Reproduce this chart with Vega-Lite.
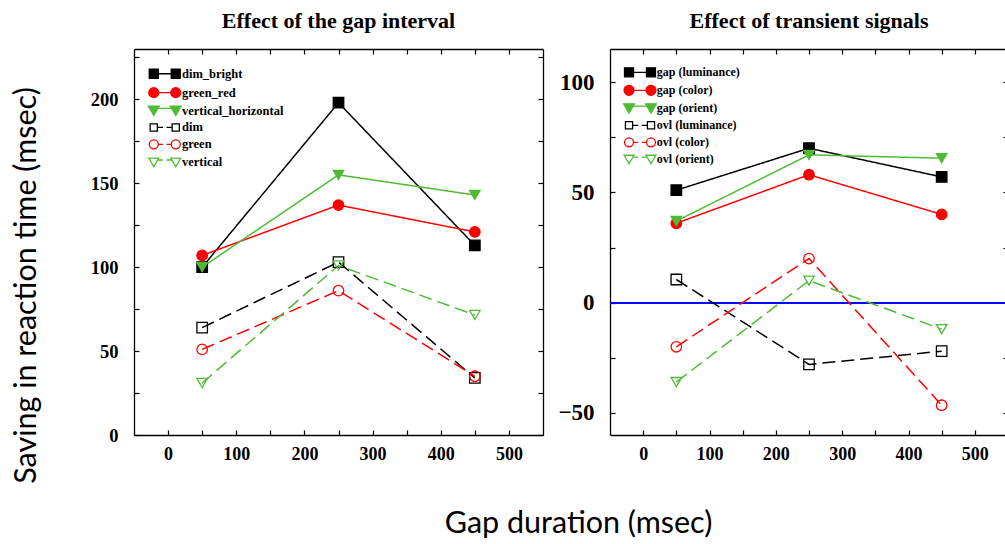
{
  "$schema": "https://vega.github.io/schema/vega-lite/v6.json",
  "bounds": "flush",
  "spacing": 67,
  "padding": {"left": 10, "top": 10, "right": 0, "bottom": 0},
  "resolve": {
    "scale": {"stroke": "independent", "fill": "independent", "shape": "independent", "strokeDash": "independent"},
    "legend": {"stroke": "independent", "fill": "independent", "shape": "independent", "strokeDash": "independent"}
  },
  "config": {
    "view": {"stroke": null},
    "axis": {"grid": false, "domainColor": "#000", "domainWidth": 1.3, "tickColor": "#000", "tickWidth": 1.2, "tickSize": -5,
      "labelFont": "Liberation Serif", "labelFontWeight": "bold", "labelColor": "#000", "labelFontSize": 18,
      "titleFont": "Lato", "titleFontWeight": "normal", "titleFontSize": 30.5, "titleColor": "#000", "labelFlush": false, "labelOverlap": false},
    "title": {"font": "Liberation Serif", "fontSize": 22, "fontWeight": "bold", "color": "#000"},
    "legend": {"labelFont": "Liberation Serif", "labelFontWeight": "bold", "labelColor": "#000"}
  },
  "hconcat": [
    {
      "width": 409, "height": 386,
      "title": {"text": "Effect of the gap interval", "anchor": "middle", "frame": "group", "baseline": "alphabetic", "offset": -2},
      "data": {"values": [
        {"series": "dim_bright", "gap": 50, "saving": 100}, {"series": "dim_bright", "gap": 250, "saving": 198}, {"series": "dim_bright", "gap": 450, "saving": 113},
        {"series": "green_red", "gap": 50, "saving": 107}, {"series": "green_red", "gap": 250, "saving": 137}, {"series": "green_red", "gap": 450, "saving": 121},
        {"series": "vertical_horizontal", "gap": 50, "saving": 100}, {"series": "vertical_horizontal", "gap": 250, "saving": 155}, {"series": "vertical_horizontal", "gap": 450, "saving": 143},
        {"series": "dim", "gap": 50, "saving": 64}, {"series": "dim", "gap": 250, "saving": 103}, {"series": "dim", "gap": 450, "saving": 34},
        {"series": "green", "gap": 50, "saving": 51}, {"series": "green", "gap": 250, "saving": 86}, {"series": "green", "gap": 450, "saving": 35},
        {"series": "vertical", "gap": 50, "saving": 31}, {"series": "vertical", "gap": 250, "saving": 101}, {"series": "vertical", "gap": 450, "saving": 71.5}
      ]},
      "resolve": {"axis": {"x": "independent", "y": "independent"}},
      "layer": [
        {
          "mark": {"type": "line", "strokeWidth": 1.5},
          "encoding": {
            "x": {"field": "gap", "type": "quantitative", "scale": {"domain": [-50, 550], "nice": false, "zero": false},
              "axis": {"orient": "bottom", "values": [0, 50, 100, 150, 200, 250, 300, 350, 400, 450, 500], "labelExpr": "datum.value % 100 === 0 ? datum.label : ''", "labelPadding": 15,
                "title": "Gap duration (msec)", "titleX": 444, "titleY": 88, "titleBaseline": "middle"}},
            "y": {"field": "saving", "type": "quantitative", "scale": {"domain": [0, 230], "nice": false, "zero": false},
              "axis": {"orient": "left", "values": [0, 25, 50, 75, 100, 125, 150, 175, 200, 225], "labelExpr": "datum.value % 50 === 0 ? datum.label : ''", "labelPadding": 21, "labelFontSize": 18.5,
                "title": "Saving in reaction time (msec)", "titleX": -108, "titleY": 236, "titleBaseline": "middle"}},
            "stroke": {"field": "series", "type": "nominal", "scale": {"domain": ["dim_bright", "green_red", "vertical_horizontal", "dim", "green", "vertical"], "range": ["#000000", "#ff0000", "#4fbb35", "#000000", "#ff0000", "#4fbb35"]}},
            "strokeDash": {"field": "series", "type": "nominal", "scale": {"domain": ["dim", "green", "vertical", "dim_bright", "green_red", "vertical_horizontal"], "range": [[13, 6], [13, 6], [13, 6], [1, 0], [1, 0], [1, 0]]}, "legend": null}
          }
        },
        {
          "transform": [{"filter": {"field": "series", "oneOf": ["dim_bright", "dim"]}}],
          "mark": {"type": "point", "shape": "square", "size": 110, "strokeWidth": 1.3, "opacity": 1},
          "encoding": {
            "x": {"field": "gap", "type": "quantitative", "scale": {"domain": [-50, 550], "nice": false, "zero": false},
              "axis": {"orient": "top", "values": [0, 50, 100, 150, 200, 250, 300, 350, 400, 450, 500], "labels": false, "title": null}},
            "y": {"field": "saving", "type": "quantitative", "scale": {"domain": [0, 230], "nice": false, "zero": false},
              "axis": {"orient": "right", "values": [0, 25, 50, 75, 100, 125, 150, 175, 200, 225], "labels": false, "title": null}},
            "stroke": {"field": "series", "type": "nominal", "scale": {"domain": ["dim_bright", "green_red", "vertical_horizontal", "dim", "green", "vertical"], "range": ["#000000", "#ff0000", "#4fbb35", "#000000", "#ff0000", "#4fbb35"]}},
            "fill": {"field": "series", "type": "nominal", "scale": {"domain": ["dim_bright", "green_red", "vertical_horizontal", "dim", "green", "vertical"], "range": ["#000000", "#ff0000", "#4fbb35", "transparent", "transparent", "transparent"]}}
          }
        },
        {
          "transform": [{"filter": {"field": "series", "oneOf": ["green_red", "green"]}}],
          "mark": {"type": "point", "shape": "circle", "size": 110, "strokeWidth": 1.3, "opacity": 1},
          "encoding": {
            "x": {"field": "gap", "type": "quantitative", "scale": {"domain": [-50, 550], "nice": false, "zero": false}, "axis": null},
            "y": {"field": "saving", "type": "quantitative", "scale": {"domain": [0, 230], "nice": false, "zero": false}, "axis": null},
            "stroke": {"field": "series", "type": "nominal", "scale": {"domain": ["dim_bright", "green_red", "vertical_horizontal", "dim", "green", "vertical"], "range": ["#000000", "#ff0000", "#4fbb35", "#000000", "#ff0000", "#4fbb35"]}},
            "fill": {"field": "series", "type": "nominal", "scale": {"domain": ["dim_bright", "green_red", "vertical_horizontal", "dim", "green", "vertical"], "range": ["#000000", "#ff0000", "#4fbb35", "transparent", "transparent", "transparent"]}}
          }
        },
        {
          "transform": [{"filter": {"field": "series", "oneOf": ["vertical_horizontal", "vertical"]}}],
          "mark": {"type": "point", "shape": "triangle-down", "size": 110, "strokeWidth": 1.3, "opacity": 1},
          "encoding": {
            "x": {"field": "gap", "type": "quantitative", "scale": {"domain": [-50, 550], "nice": false, "zero": false}, "axis": null},
            "y": {"field": "saving", "type": "quantitative", "scale": {"domain": [0, 230], "nice": false, "zero": false}, "axis": null},
            "stroke": {"field": "series", "type": "nominal", "scale": {"domain": ["dim_bright", "green_red", "vertical_horizontal", "dim", "green", "vertical"], "range": ["#000000", "#ff0000", "#4fbb35", "#000000", "#ff0000", "#4fbb35"]}},
            "fill": {"field": "series", "type": "nominal", "scale": {"domain": ["dim_bright", "green_red", "vertical_horizontal", "dim", "green", "vertical"], "range": ["#000000", "#ff0000", "#4fbb35", "transparent", "transparent", "transparent"]}}
          }
        },
        {
          "mark": {"type": "point", "opacity": 0},
          "encoding": {
            "x": {"field": "gap", "type": "quantitative", "scale": {"domain": [-50, 550], "nice": false, "zero": false}, "axis": null},
            "y": {"field": "saving", "type": "quantitative", "scale": {"domain": [0, 230], "nice": false, "zero": false}, "axis": null},
            "shape": {"field": "series", "type": "nominal", "scale": {"domain": ["dim_bright", "green_red", "vertical_horizontal", "dim", "green", "vertical"],
              "range": ["M-3.44,-1L-1.44,-1L-1.44,1L-3.44,1ZM1.44,-1L3.44,-1L3.44,1L1.44,1ZM-1.44,0L1.44,0", "M-1.34,0A1.1,1.1,0,1,1,-3.54,0A1.1,1.1,0,1,1,-1.34,0ZM3.54,0A1.1,1.1,0,1,1,1.34,0A1.1,1.1,0,1,1,3.54,0ZM-1.34,0L1.34,0", "M-3.64,-1L-1.24,-1L-2.44,1.1ZM1.24,-1L3.64,-1L2.44,1.1ZM-1.53,-0.5L1.53,-0.5", "M-3.24,-0.8L-1.64,-0.8L-1.64,0.8L-3.24,0.8ZM1.64,-0.8L3.24,-0.8L3.24,0.8L1.64,0.8ZM-1.64,0L-0.4,0M0.4,0L1.64,0", "M-1.44,0A1,1,0,1,1,-3.44,0A1,1,0,1,1,-1.44,0ZM3.44,0A1,1,0,1,1,1.44,0A1,1,0,1,1,3.44,0ZM-1.44,0L-0.4,0M0.4,0L1.44,0", "M-3.54,-0.9L-1.34,-0.9L-2.44,1ZM1.34,-0.9L3.54,-0.9L2.44,1ZM-1.6,-0.5L-0.4,-0.5M0.4,-0.5L1.6,-0.5"]},
              "legend": {"orient": "none", "legendX": 24.5, "legendY": 18.5, "title": null, "symbolSize": 81, "labelOffset": 11, "labelFontSize": 12.5, "rowPadding": 2.9, "symbolStrokeWidth": 1.3, "symbolOpacity": 1}}
          }
        }
      ]
    },
    {
      "width": 398, "height": 386,
      "title": {"text": "Effect of transient signals", "anchor": "middle", "frame": "group", "baseline": "alphabetic", "offset": -2},
      "data": {"values": [
        {"series": "gap (luminance)", "gap": 50, "saving": 51}, {"series": "gap (luminance)", "gap": 250, "saving": 70}, {"series": "gap (luminance)", "gap": 450, "saving": 57},
        {"series": "gap (color)", "gap": 50, "saving": 36}, {"series": "gap (color)", "gap": 250, "saving": 58}, {"series": "gap (color)", "gap": 450, "saving": 40},
        {"series": "gap (orient)", "gap": 50, "saving": 37}, {"series": "gap (orient)", "gap": 250, "saving": 67}, {"series": "gap (orient)", "gap": 450, "saving": 65.5},
        {"series": "ovl (luminance)", "gap": 50, "saving": 10.5}, {"series": "ovl (luminance)", "gap": 250, "saving": -28}, {"series": "ovl (luminance)", "gap": 450, "saving": -22},
        {"series": "ovl (color)", "gap": 50, "saving": -20}, {"series": "ovl (color)", "gap": 250, "saving": 20}, {"series": "ovl (color)", "gap": 450, "saving": -46.5},
        {"series": "ovl (orient)", "gap": 50, "saving": -36}, {"series": "ovl (orient)", "gap": 250, "saving": 10}, {"series": "ovl (orient)", "gap": 450, "saving": -12}
      ]},
      "resolve": {"axis": {"x": "independent", "y": "independent"}},
      "layer": [
        {
          "mark": {"type": "rule", "color": "#0000ff", "strokeWidth": 1},
          "encoding": {"y": {"datum": 0, "scale": {"domain": [-60, 115], "nice": false, "zero": false}, "axis": null}}
        },
        {
          "mark": {"type": "line", "strokeWidth": 1.5},
          "encoding": {
            "x": {"field": "gap", "type": "quantitative", "scale": {"domain": [-50, 550], "nice": false, "zero": false},
              "axis": {"orient": "bottom", "values": [0, 50, 100, 150, 200, 250, 300, 350, 400, 450, 500], "labelExpr": "datum.value % 100 === 0 ? datum.label : ''", "labelPadding": 15, "title": null}},
            "y": {"field": "saving", "type": "quantitative", "scale": {"domain": [-60, 115], "nice": false, "zero": false},
              "axis": {"orient": "left", "values": [-50, -25, 0, 25, 50, 75, 100], "labelExpr": "datum.value % 50 === 0 ? datum.label : ''", "labelPadding": 21, "labelFontSize": 23, "title": null}},
            "stroke": {"field": "series", "type": "nominal", "scale": {"domain": ["gap (luminance)", "gap (color)", "gap (orient)", "ovl (luminance)", "ovl (color)", "ovl (orient)"], "range": ["#000000", "#ff0000", "#4fbb35", "#000000", "#ff0000", "#4fbb35"]}},
            "strokeDash": {"field": "series", "type": "nominal", "scale": {"domain": ["ovl (luminance)", "ovl (color)", "ovl (orient)", "gap (luminance)", "gap (color)", "gap (orient)"], "range": [[13, 6], [13, 6], [13, 6], [1, 0], [1, 0], [1, 0]]}, "legend": null}
          }
        },
        {
          "transform": [{"filter": {"field": "series", "oneOf": ["gap (luminance)", "ovl (luminance)"]}}],
          "mark": {"type": "point", "shape": "square", "size": 110, "strokeWidth": 1.3, "opacity": 1},
          "encoding": {
            "x": {"field": "gap", "type": "quantitative", "scale": {"domain": [-50, 550], "nice": false, "zero": false},
              "axis": {"orient": "top", "values": [0, 50, 100, 150, 200, 250, 300, 350, 400, 450, 500], "labels": false, "title": null}},
            "y": {"field": "saving", "type": "quantitative", "scale": {"domain": [-60, 115], "nice": false, "zero": false},
              "axis": {"orient": "right", "values": [-50, -25, 0, 25, 50, 75, 100], "labels": false, "title": null}},
            "stroke": {"field": "series", "type": "nominal", "scale": {"domain": ["gap (luminance)", "gap (color)", "gap (orient)", "ovl (luminance)", "ovl (color)", "ovl (orient)"], "range": ["#000000", "#ff0000", "#4fbb35", "#000000", "#ff0000", "#4fbb35"]}},
            "fill": {"field": "series", "type": "nominal", "scale": {"domain": ["gap (luminance)", "gap (color)", "gap (orient)", "ovl (luminance)", "ovl (color)", "ovl (orient)"], "range": ["#000000", "#ff0000", "#4fbb35", "transparent", "transparent", "transparent"]}}
          }
        },
        {
          "transform": [{"filter": {"field": "series", "oneOf": ["gap (color)", "ovl (color)"]}}],
          "mark": {"type": "point", "shape": "circle", "size": 110, "strokeWidth": 1.3, "opacity": 1},
          "encoding": {
            "x": {"field": "gap", "type": "quantitative", "scale": {"domain": [-50, 550], "nice": false, "zero": false}, "axis": null},
            "y": {"field": "saving", "type": "quantitative", "scale": {"domain": [-60, 115], "nice": false, "zero": false}, "axis": null},
            "stroke": {"field": "series", "type": "nominal", "scale": {"domain": ["gap (luminance)", "gap (color)", "gap (orient)", "ovl (luminance)", "ovl (color)", "ovl (orient)"], "range": ["#000000", "#ff0000", "#4fbb35", "#000000", "#ff0000", "#4fbb35"]}},
            "fill": {"field": "series", "type": "nominal", "scale": {"domain": ["gap (luminance)", "gap (color)", "gap (orient)", "ovl (luminance)", "ovl (color)", "ovl (orient)"], "range": ["#000000", "#ff0000", "#4fbb35", "transparent", "transparent", "transparent"]}}
          }
        },
        {
          "transform": [{"filter": {"field": "series", "oneOf": ["gap (orient)", "ovl (orient)"]}}],
          "mark": {"type": "point", "shape": "triangle-down", "size": 110, "strokeWidth": 1.3, "opacity": 1},
          "encoding": {
            "x": {"field": "gap", "type": "quantitative", "scale": {"domain": [-50, 550], "nice": false, "zero": false}, "axis": null},
            "y": {"field": "saving", "type": "quantitative", "scale": {"domain": [-60, 115], "nice": false, "zero": false}, "axis": null},
            "stroke": {"field": "series", "type": "nominal", "scale": {"domain": ["gap (luminance)", "gap (color)", "gap (orient)", "ovl (luminance)", "ovl (color)", "ovl (orient)"], "range": ["#000000", "#ff0000", "#4fbb35", "#000000", "#ff0000", "#4fbb35"]}},
            "fill": {"field": "series", "type": "nominal", "scale": {"domain": ["gap (luminance)", "gap (color)", "gap (orient)", "ovl (luminance)", "ovl (color)", "ovl (orient)"], "range": ["#000000", "#ff0000", "#4fbb35", "transparent", "transparent", "transparent"]}}
          }
        },
        {
          "mark": {"type": "point", "opacity": 0},
          "encoding": {
            "x": {"field": "gap", "type": "quantitative", "scale": {"domain": [-50, 550], "nice": false, "zero": false}, "axis": null},
            "y": {"field": "saving", "type": "quantitative", "scale": {"domain": [-60, 115], "nice": false, "zero": false}, "axis": null},
            "shape": {"field": "series", "type": "nominal", "scale": {"domain": ["gap (luminance)", "gap (color)", "gap (orient)", "ovl (luminance)", "ovl (color)", "ovl (orient)"],
              "range": ["M-3.44,-1L-1.44,-1L-1.44,1L-3.44,1ZM1.44,-1L3.44,-1L3.44,1L1.44,1ZM-1.44,0L1.44,0", "M-1.34,0A1.1,1.1,0,1,1,-3.54,0A1.1,1.1,0,1,1,-1.34,0ZM3.54,0A1.1,1.1,0,1,1,1.34,0A1.1,1.1,0,1,1,3.54,0ZM-1.34,0L1.34,0", "M-3.64,-1L-1.24,-1L-2.44,1.1ZM1.24,-1L3.64,-1L2.44,1.1ZM-1.53,-0.5L1.53,-0.5", "M-3.24,-0.8L-1.64,-0.8L-1.64,0.8L-3.24,0.8ZM1.64,-0.8L3.24,-0.8L3.24,0.8L1.64,0.8ZM-1.64,0L-0.4,0M0.4,0L1.64,0", "M-1.44,0A1,1,0,1,1,-3.44,0A1,1,0,1,1,-1.44,0ZM3.44,0A1,1,0,1,1,1.44,0A1,1,0,1,1,3.44,0ZM-1.44,0L-0.4,0M0.4,0L1.44,0", "M-3.54,-0.9L-1.34,-0.9L-2.44,1ZM1.34,-0.9L3.54,-0.9L2.44,1ZM-1.6,-0.5L-0.4,-0.5M0.4,-0.5L1.6,-0.5"]},
              "legend": {"orient": "none", "legendX": 24, "legendY": 17.3, "title": null, "symbolSize": 81, "labelOffset": 10.8, "labelFontSize": 12, "rowPadding": 2.0, "symbolStrokeWidth": 1.3, "symbolOpacity": 1}}
          }
        }
      ]
    }
  ]
}
